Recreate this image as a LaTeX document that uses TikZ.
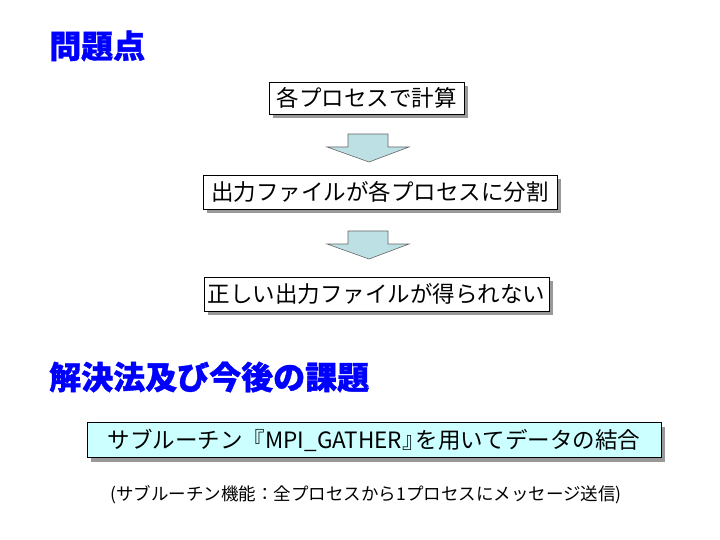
\documentclass[tikz,border=0pt]{standalone}
\usepackage{fontspec}
\newfontfamily\jp{Noto Sans CJK JP}
\newfontfamily\jpt[BoldFeatures={FakeBold=1.2}]{Noto Sans CJK JP}
\usetikzlibrary{shadows}
\definecolor{titleblue}{RGB}{0,0,255}
\definecolor{arrowfill}{RGB}{189,224,228}
\definecolor{boxcyan}{RGB}{204,255,255}
\tikzset{
  title/.style={anchor=west, inner sep=0pt, text=titleblue, font=\jpt\bfseries\fontsize{32}{34}\selectfont},
  stepbox/.style={draw=black, line width=0.9pt, fill=white, inner sep=0pt, align=center,
    font=\jp\fontsize{22.5}{25}\selectfont,
    drop shadow={shadow xshift=4pt, shadow yshift=-4pt, fill=black!40, opacity=1}},
  blockarrow/.style={draw=black!60, line width=0.6pt, fill=arrowfill},
  note/.style={inner sep=0pt, font=\jp\fontsize{17.5}{19}\selectfont}
}
\begin{document}
\begin{tikzpicture}[x=1pt,y=-1pt]
\useasboundingbox (0,0) rectangle (720,540);
\node[title] (t1) at (49,46) {問題点};
\node[stepbox, minimum width=195pt, minimum height=32pt] (b1) at (366.5,98) {各プロセスで計算};
\draw[blockarrow] (348,134) -- (388,134) -- (388,147) -- (409,147) -- (369,162) -- (327,147) -- (348,147) -- cycle;
\node[stepbox, minimum width=354pt, minimum height=34pt] (b2) at (380,192) {出力ファイルが各プロセスに分割};
\draw[blockarrow] (348,231) -- (388,231) -- (388,244) -- (409,244) -- (369,259) -- (327,244) -- (348,244) -- cycle;
\node[stepbox, minimum width=345pt, minimum height=34pt] (b3) at (376.5,294) {正しい出力ファイルが得られない};
\node[title] (t2) at (49,377) {解決法及び今後の課題};
\node[stepbox, fill=boxcyan, minimum width=574pt, minimum height=35pt] (b4) at (374,440) {サブルーチン『MPI\_GATHER』\kern-0.4em を用いてデータの結合};
\node[note] (n1) at (366,495) {(サブルーチン機能：全プロセスから1プロセスにメッセージ送信)};
\end{tikzpicture}
\end{document}
